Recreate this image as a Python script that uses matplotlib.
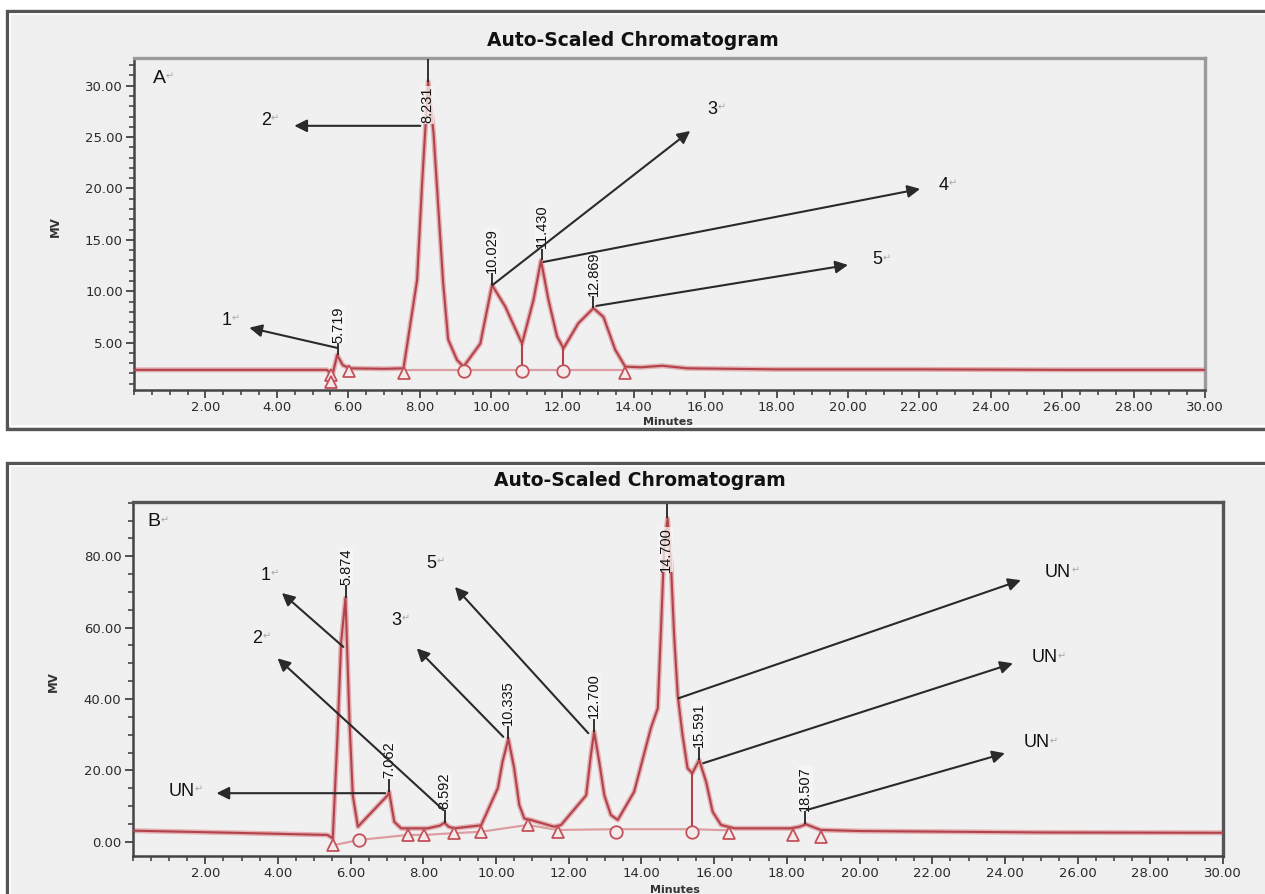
import matplotlib
matplotlib.use('Agg')
import matplotlib.pyplot as plt
from matplotlib.patches import Rectangle
from matplotlib.ticker import MultipleLocator, FixedLocator, FormatStrFormatter

# ---------------- data : panel A ----------------
A_time = [0.0, 2.0, 4.0, 5.40, 5.56, 5.69, 5.85, 6.05, 7.0, 7.55, 7.93, 8.07, 8.24,
          8.39, 8.66, 8.80, 9.05, 9.23, 9.70, 9.89, 10.03, 10.40, 10.87, 11.19, 11.40,
          11.61, 11.85, 12.03, 12.45, 12.87, 13.15, 13.48, 13.76, 14.2, 14.8, 15.5,
          18.0, 22.0, 26.0, 30.0]
A_signal = [2.35, 2.35, 2.35, 2.35, 1.85, 3.8, 2.8, 2.5, 2.45, 2.5, 11.1, 20.5, 30.4,
            25.4, 10.8, 5.3, 3.3, 2.66, 4.9, 8.2, 10.6, 8.5, 4.9, 9.15, 13.0,
            9.15, 5.6, 4.45, 6.9, 8.35, 7.5, 4.3, 2.66, 2.6, 2.75, 2.5,
            2.4, 2.4, 2.35, 2.35]
A_peak_rt = [5.719, 8.231, 10.029, 11.430, 12.869]
A_peak_height = [3.8, 30.4, 10.6, 13.0, 8.35]
A_peak_labels = ["5.719", "8.231", "10.029", "11.430", "12.869"]
A_tri_t = [5.53, 5.53, 6.01, 7.55, 13.76]
A_tri_v = [1.85, 1.2, 2.2, 2.0, 2.0]
A_circ_t = [9.23, 10.87, 12.03]
A_circ_v = [2.2, 2.2, 2.2]
A_drop_t = [10.87, 12.03]
A_drop_top = [4.9, 4.45]
A_drop_bot = [2.3, 2.3]
A_base_t = [7.55, 13.76]
A_base_v = [2.3, 2.3]
A_names = ["1", "2", "3", "4", "5"]

# ---------------- data : panel B ----------------
B_time = [0.0, 2.8, 5.36, 5.51, 5.64, 5.74, 5.86, 5.97, 6.06, 6.20, 7.02, 7.06, 7.20,
          7.39, 8.12, 8.45, 8.58, 8.70, 8.85, 9.59, 10.05, 10.18, 10.34, 10.50, 10.64,
          10.78, 10.96, 11.60, 11.79, 12.48, 12.61, 12.70, 12.84, 12.98, 13.16, 13.35,
          13.80, 14.26, 14.45, 14.54, 14.63, 14.72, 14.81, 14.90, 15.00, 15.13, 15.27,
          15.40, 15.59, 15.78, 15.96, 16.19, 16.56, 18.10, 18.35, 18.53, 18.75, 18.94,
          20.0, 25.0, 30.0]
B_signal = [3.1, 2.5, 1.9, 0.95, 30.0, 56.0, 68.3, 33.6, 13.0, 4.2, 13.0, 14.0, 5.6,
            3.75, 3.75, 4.5, 5.3, 4.2, 3.75, 4.6, 15.0, 22.4, 28.8, 20.6, 10.3,
            6.5, 6.1, 4.2, 4.7, 13.0, 24.3, 30.8, 22.4, 13.0, 7.5, 6.1,
            14.0, 31.8, 37.4, 59.8, 83.0, 90.6, 78.4, 57.9, 41.0, 30.0, 20.6,
            19.2, 22.9, 16.8, 8.4, 4.7, 3.75, 3.75, 4.2, 4.9, 4.0, 3.3,
            3.0, 2.6, 2.5]
B_peak_rt = [5.874, 7.062, 8.592, 10.335, 12.700, 14.700, 15.591, 18.507]
B_peak_height = [68.3, 14.0, 5.3, 28.8, 30.8, 90.6, 22.9, 4.9]
B_peak_labels = ["5.874", "7.062", "8.592", "10.335", "12.700", "14.700", "15.591", "18.507"]
B_tri_t = [5.51, 7.57, 8.03, 8.85, 9.59, 10.87, 11.70, 16.42, 18.16, 18.94]
B_tri_v = [-1.0, 1.9, 1.9, 2.4, 2.8, 4.7, 2.8, 2.4, 1.9, 1.4]
B_circ_t = [6.24, 13.30, 15.40]
B_circ_v = [0.5, 2.8, 2.8]
B_drop_t = [15.40]
B_drop_top = [19.2]
B_drop_bot = [2.8]
B_base_t = [5.51, 6.24, 7.57, 8.03, 8.85, 9.59, 10.87, 11.70, 13.30, 15.40, 16.42]
B_base_v = [-1.0, 0.5, 1.9, 1.9, 2.4, 2.8, 4.7, 3.3, 3.5, 3.5, 3.2]
B_names = ["1", "2", "3", "5", "UN", "UN", "UN", "UN"]

# ---------------- layout (positions only) ----------------
W, H = 1265, 894
SIG = '#b3434b'
SIG_HALO = '#e3b0b3'
MK = '#c4515a'

# arrows: (tail x, tail y, head x, head y, text x, text y) in data units
A_arrows = [(5.70, 4.48, 3.23, 6.45, 2.59, 7.2),
            (8.02, 26.1, 4.49, 26.1, 3.69, 26.6),
            (10.04, 10.6, 15.58, 25.6, 16.21, 27.7),
            (11.47, 12.85, 22.02, 19.96, 22.67, 20.3),
            (12.95, 8.57, 20.0, 12.56, 20.82, 13.05)]
B_arrows = [(5.80, 54.6, 4.11, 69.7, 3.65, 74.7),
            (8.55, 8.9, 3.99, 51.4, 3.43, 57.0),
            (10.20, 29.4, 7.82, 54.2, 7.27, 62.1),
            (12.54, 30.4, 8.87, 71.4, 8.23, 78.0),
            (6.95, 13.6, 2.31, 13.6, 1.35, 14.0),
            (15.02, 40.2, 24.44, 73.3, 25.46, 75.4),
            (15.70, 22.0, 24.22, 50.0, 25.10, 51.5),
            (18.55, 8.9, 24.00, 24.8, 24.87, 27.7)]

fig = plt.figure(figsize=(W / 100, H / 100), dpi=100)
fig.patch.set_facecolor('white')


def frac_rect(l, t, r, b):
    return [l / W, 1 - b / H, (r - l) / W, (b - t) / H]


for (l, t, r, b) in [(7, 11, 1285, 429), (7, 463, 1285, 910)]:
    x0, y0, w, h = frac_rect(l, t, r, b)
    fig.add_artist(Rectangle((x0, y0), w, h, transform=fig.transFigure,
                             facecolor='#efefef', edgecolor='#555555', lw=2.4, zorder=0))
    x0, y0, w, h = frac_rect(l + 3, t + 3, r - 3, b - 3)
    fig.add_artist(Rectangle((x0, y0), w, h, transform=fig.transFigure,
                             facecolor='none', edgecolor='white', lw=1.2, zorder=0))


def make_axes(rect, xlim, ylim, ymaj, ymin_step, top_color):
    ax = fig.add_axes(frac_rect(*rect))
    ax.set_facecolor('#f0f0f0')
    ax.set_xlim(*xlim)
    ax.set_ylim(*ylim)
    ax.xaxis.set_major_locator(FixedLocator(list(range(2, 31, 2))))
    ax.xaxis.set_minor_locator(MultipleLocator(0.5))
    ax.xaxis.set_major_formatter(FormatStrFormatter('%.2f'))
    ax.yaxis.set_major_locator(MultipleLocator(ymaj))
    ax.yaxis.set_minor_locator(MultipleLocator(ymin_step))
    ax.yaxis.set_major_formatter(FormatStrFormatter('%.2f'))
    ax.tick_params(which='major', direction='out', length=6, width=1.3, color='#444',
                   labelsize=9.5, labelcolor='#2a2a2a', pad=2)
    ax.tick_params(which='minor', direction='out', length=3.5, width=1.3, color='#555')
    for side in ('left', 'bottom'):
        ax.spines[side].set_color('#444')
        ax.spines[side].set_linewidth(1.8)
    for side in ('top', 'right'):
        ax.spines[side].set_color(top_color)
        ax.spines[side].set_linewidth(2.4)
    for lab in ax.get_xticklabels() + ax.get_yticklabels():
        lab.set_family('DejaVu Sans')
    return ax


def draw_panel(ax, t, s, rts, hts, labs, tri_t, tri_v, circ_t, circ_v,
               drop_t, drop_top, drop_bot, base_t, base_v, names, arrows,
               off, clip_idx, clip_top, axtop, letter, letter_xy):
    ax.plot(base_t, base_v, color='#dc9ea2', lw=1.6, zorder=2)
    ax.plot(t, s, color=SIG_HALO, lw=3.6, zorder=2, solid_joinstyle='round')
    ax.plot(t, s, color=SIG, lw=1.5, zorder=3, solid_joinstyle='round')
    ax.vlines(drop_t, drop_bot, drop_top, color=SIG, lw=1.5, zorder=3)
    ax.plot(tri_t, tri_v, '^', ms=9, mfc='#f5eaea', mec=MK, mew=1.3, ls='none', zorder=4)
    ax.plot(circ_t, circ_v, 'o', ms=9, mfc='#f5eaea', mec=MK, mew=1.3, ls='none', zorder=4)
    for i, (rt, h, lab) in enumerate(zip(rts, hts, labs)):
        if i == clip_idx:
            ax.vlines(rt, h, axtop, color='#222', lw=1.3, zorder=5)
            ax.text(rt - 0.02, clip_top, lab, rotation=90, ha='center', va='top',
                    fontsize=10.5, family='Liberation Sans', color='#111', zorder=6,
                    bbox=dict(facecolor='#f7f7f7', edgecolor='none', pad=0.2, alpha=0.75))
        else:
            ax.vlines(rt, h, h + off, color='#222', lw=1.3, zorder=5)
            ax.text(rt, h + off * 1.05, lab, rotation=90, ha='center', va='bottom',
                    fontsize=10.5, family='Liberation Sans', color='#111', zorder=6,
                    bbox=dict(facecolor='#f7f7f7', edgecolor='none', pad=0.2, alpha=0.75))
    for (tx, ty, hx, hy, lx, ly), nm in zip(arrows, names):
        ax.annotate('', xy=(hx, hy), xytext=(tx, ty),
                    arrowprops=dict(arrowstyle='-|>,head_length=0.5,head_width=0.25',
                                    color='#2a2a2a', lw=1.5, shrinkA=0, shrinkB=0,
                                    mutation_scale=15), zorder=7)
        tt = ax.text(lx, ly, nm, ha='center', va='center', fontsize=13,
                     family='Liberation Sans', color='#111', zorder=8)
        ax.annotate('\u21b5', xy=(1.0, 0.62), xycoords=tt, ha='left', va='center',
                    fontsize=7, color='#a8a8a8', family=['DejaVu Sans'], zorder=8)
    tt = ax.text(letter_xy[0], letter_xy[1], letter, ha='center', va='center', fontsize=14,
                 family='Liberation Sans', color='#111', zorder=8)
    ax.annotate('\u21b5', xy=(1.0, 0.62), xycoords=tt, ha='left', va='center',
                fontsize=7, color='#a8a8a8', family=['DejaVu Sans'], zorder=8)


# ---------------- panel A ----------------
axA = make_axes((134, 58, 1205, 390), (0, 30), (0.39, 32.7), 5, 1, '#9a9a9a')
draw_panel(axA, A_time, A_signal, A_peak_rt, A_peak_height, A_peak_labels,
           A_tri_t, A_tri_v, A_circ_t, A_circ_v, A_drop_t, A_drop_top, A_drop_bot,
           A_base_t, A_base_v, A_names, A_arrows, 1.15, 1, 29.9, 32.6, 'A', (0.71, 30.7))

# ---------------- panel B ----------------
axB = make_axes((132.5, 502, 1223, 856), (0, 30), (-4.0, 95.2), 20, 5, '#555555')
draw_panel(axB, B_time, B_signal, B_peak_rt, B_peak_height, B_peak_labels,
           B_tri_t, B_tri_v, B_circ_t, B_circ_v, B_drop_t, B_drop_top, B_drop_bot,
           B_base_t, B_base_v, B_names, B_arrows, 3.6, 5, 88.2, 94.5, 'B', (0.59, 89.6))

# ---------------- figure texts ----------------
for (x, y) in [(633, 41), (640, 481)]:
    fig.text(x / W, 1 - y / H, 'Auto-Scaled Chromatogram', ha='center', va='center',
             fontsize=13.5, fontweight='bold', family='DejaVu Sans', color='#111')
for (x, y) in [(55, 227), (53, 682)]:
    fig.text(x / W, 1 - y / H, 'MV', rotation=90, ha='center', va='center',
             fontsize=8.5, fontweight='bold', family='DejaVu Sans', color='#333')
for (x, y) in [(668, 422), (675, 890)]:
    fig.text(x / W, 1 - y / H, 'Minutes', ha='center', va='center',
             fontsize=8, fontweight='bold', family='DejaVu Sans', color='#333')

fig.savefig('out.png', dpi=100, facecolor=fig.get_facecolor())
